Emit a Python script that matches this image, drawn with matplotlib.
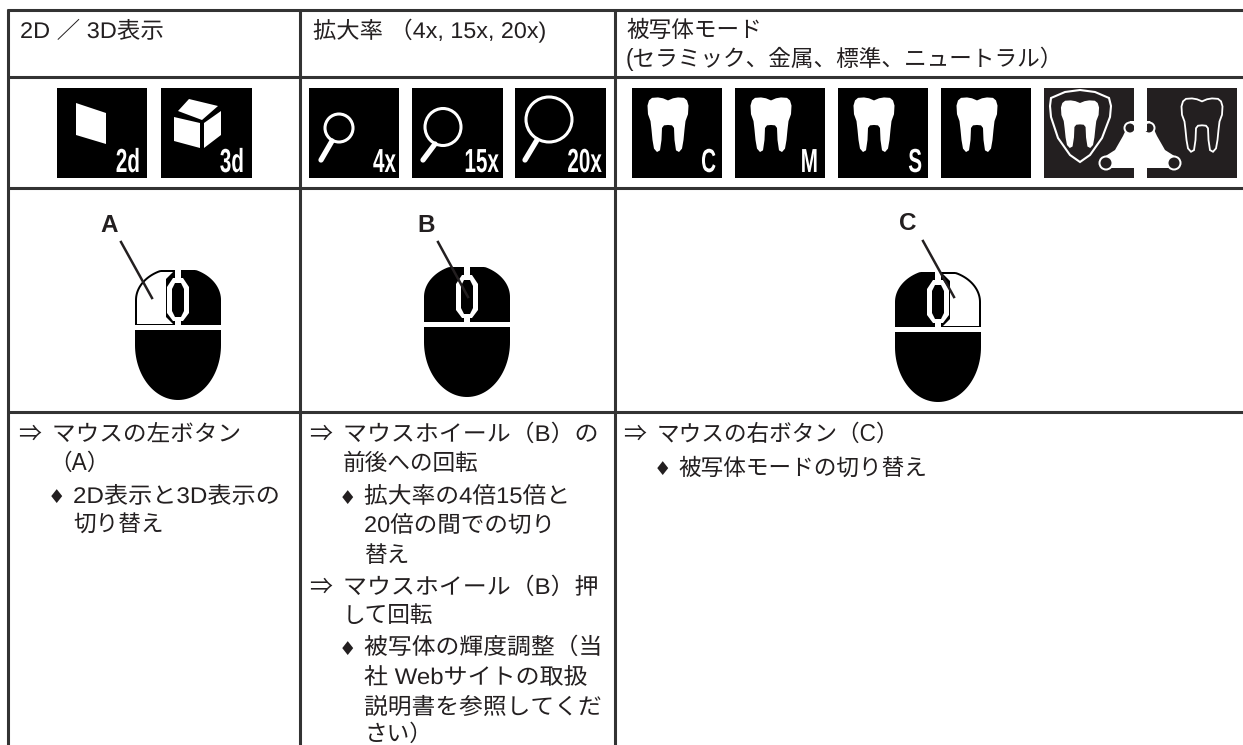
import numpy as np
import matplotlib
matplotlib.use("Agg")
import matplotlib.pyplot as plt
from matplotlib.patches import Polygon, Rectangle, Circle, Ellipse
from matplotlib.patheffects import AbstractPathEffect
from matplotlib.transforms import Affine2D

plt.rcParams['font.family'] = ['Liberation Sans', 'Noto Sans CJK JP', 'DejaVu Sans']

# ====== table text ======
headers = ["2D ／ 3D表示", "拡大率 （4x, 15x, 20x)", "被写体モード",
           "(セラミック、金属、標準、ニュートラル）"]
col1_lines = ["マウスの左ボタン", "（A）", "2D表示と3D表示の", "切り替え"]
col2_lines = ["マウスホイール（B）の", "前後への回転", "拡大率の4倍15倍と", "20倍の間での切り", "替え",
              "マウスホイール（B）押", "して回転", "被写体の輝度調整（当", "社 Webサイトの取扱",
              "説明書を参照してくだ", "さい）"]
col3_lines = ["マウスの右ボタン（C）", "被写体モードの切り替え"]
view_labels = ["2d", "3d"]
zoom_labels = ["4x", "15x", "20x"]
mode_labels = ["C", "M", "S"]
mouse_labels = ["A", "B", "C"]

INK = '#231f20'
TXT = 16.3

fig = plt.figure(figsize=(12.43, 7.45), dpi=100)
ax = fig.add_axes([0, 0, 1, 1])
ax.set_xlim(0, 1243)
ax.set_ylim(745, 0)
ax.axis('off')


class Stretch(AbstractPathEffect):
    # horizontal scale of a text around one x, the reference has justified and condensed lines
    def __init__(self, x, factor):
        super().__init__()
        self.x0 = ax.transData.transform((x, 0))[0]
        self.factor = factor

    def draw_path(self, renderer, gc, tpath, affine, rgbFace=None):
        squeeze = Affine2D().translate(-self.x0, 0).scale(self.factor, 1).translate(self.x0, 0)
        renderer.draw_path(gc, tpath, affine + squeeze, rgbFace)


# ====== grid ======
for y in [10, 77, 188, 412]:
    ax.plot([7, 1243], [y, y], color='#333333', lw=2.2, solid_capstyle='butt')
for x in [8, 300, 615]:
    ax.plot([x, x], [9, 745], color='#333333', lw=2.2, solid_capstyle='butt')


def put(x, y, s, factor=1.0, **kw):
    t = ax.text(x, y, s, fontsize=kw.pop('fontsize', TXT), color=kw.pop('color', INK), va='baseline', **kw)
    if factor != 1.0:
        t.set_path_effects([Stretch(x, factor)])


# ====== header row ======
put(20, 38, headers[0], 1.04)
put(313, 38, headers[1], 1.03)
put(626, 37, headers[2])
put(626, 66, headers[3])


# ====== icons ======
def box(x0, x1=None, color='black'):
    x1 = x0 + 90 if x1 is None else x1
    ax.add_patch(Rectangle((x0, 88), x1 - x0, 90, fc=color, ec='none'))


def icon_label(right, s):
    t = ax.text(right, 172, s, color='white', fontsize=24, fontweight='bold', ha='right', va='baseline')
    t.set_path_effects([Stretch(right, 0.62)])


def poly(pts, **kw):
    ax.add_patch(Polygon(pts, closed=True, **kw))


box(57)
box(161, 252)
icon_label(140, view_labels[0])
icon_label(244, view_labels[1])
poly([(76, 103), (106, 113), (106, 144), (76, 135)], fc='white', ec='none')
poly([(178, 111), (189, 99), (218, 106), (202, 120)], fc='white', ec='none')
poly([(174, 117), (200, 123), (200, 148), (174, 141)], fc='white', ec='none')
poly([(204, 123), (221, 111), (221, 135), (204, 148)], fc='white', ec='none')

# lupen
for x0, x1, right, lab, cx, cy, rx, ry, hx, hy, ex, ey in [
        (309, 399, 396, zoom_labels[0], 339, 128, 14, 14, 332, 141, 321, 160),
        (412, 503, 499, zoom_labels[1], 443, 127, 18, 18.5, 435, 144, 423, 160),
        (515, 606, 602, zoom_labels[2], 549, 119.5, 23, 22.5, 537, 140, 525, 160)]:
    box(x0, x1)
    ax.add_patch(Ellipse((cx, cy), 2 * rx, 2 * ry, fc='none', ec='white', lw=2.2))
    ax.plot([hx, ex], [hy, ey], color='white', lw=3.8, solid_capstyle='round')
    icon_label(right, lab)

# teeth
half = [(0, 4), (5, 1.5), (10, 0.5), (16, 1), (19, 4), (20.5, 10), (20, 20), (17.5, 28), (16.5, 38),
        (15.5, 50), (14, 60), (11, 64), (8, 62), (6.5, 50), (6, 36), (4, 33), (0, 32.5)]


def tooth(cx, top, sx=1.0, sy=1.0, **kw):
    right = [(cx + dx * sx, top + dy * sy) for dx, dy in half]
    left = [(cx - dx * sx, top + dy * sy) for dx, dy in half[::-1]]
    poly(right + left[1:-1], **kw)


for i, x0 in enumerate([632, 735, 838, 941]):
    box(x0)
    tooth(x0 + 36, 97, 1.0, 0.86, fc='white', ec='none')
for right, lab in zip([716, 818, 922], mode_labels):
    icon_label(right, lab)

DARK = '#231f20'
box(1044, 1134, DARK)
box(1147, 1237, DARK)
tooth(1080, 100, 0.93, 0.75, fc='white', ec='none')
tooth(1202, 98, 1.0, 0.84, fc='none', ec='white', lw=1.3)
shield = [(1080, 90), (1095, 92), (1109, 98), (1111, 106), (1110, 117), (1102, 138), (1090, 155), (1080, 162),
          (1070, 155), (1058, 138), (1051, 117), (1050, 106), (1051, 98), (1065, 92)]
poly(shield, fc='none', ec='white', lw=1.5)
poly([(1130, 121), (1150, 121), (1157, 136), (1165, 150), (1176, 157), (1178, 168), (1102, 168),
      (1104, 157), (1115, 150), (1123, 136)], fc='white', ec='none')
ax.add_patch(Rectangle((1134, 160), 13, 18, fc='white', ec='none'))
for cx, cy, r in [(1130, 128, 5), (1149, 128, 5), (1106, 163, 6), (1174, 163, 6)]:
    ax.add_patch(Circle((cx, cy), r + 1.5, fc='white', ec='none'))
    ax.add_patch(Circle((cx, cy), r - 0.5, fc=DARK, ec='none'))
ax.add_patch(Rectangle((1134, 88), 13, 43, fc='white', ec='none'))


# ====== mice ======
def mouse(cx, top, button=None):
    t = np.linspace(np.pi, 2 * np.pi, 60)
    xs = cx + 43 * np.cos(t)
    ys = np.maximum(top + 30 + 33 * np.sin(t), top)
    b = np.linspace(0, np.pi, 60)
    xs2 = cx + 43 * np.cos(b)
    ys2 = top + 75 + 55 * np.sin(b)
    poly(np.column_stack([np.r_[xs, xs2], np.r_[ys, ys2]]), fc='black', ec='none')

    if button is not None:
        # white button with a thin black edge left over
        inner = np.linspace(np.pi, 1.5 * np.pi, 30)
        ax_x = cx + button * (-np.cos(inner)) * 41
        ay = np.maximum(top + 30 + 31 * np.sin(inner), top + 2)
        keep = button * (ax_x - cx) > 6
        pts = [(cx + button * 41, top + 54)] + list(zip(ax_x[keep], ay[keep]))
        pts += [(cx + button * 5, top + 2), (cx + button * 12, top + 9), (cx + button * 12, top + 47),
                (cx + button * 5, top + 54)]
        poly(pts, fc='white', ec='none')

    # gap lines and the wheel
    ax.add_patch(Rectangle((cx - 3, top), 6, 55, fc='white', ec='none'))
    ax.add_patch(Rectangle((cx - 44, top + 55), 88, 5, fc='white', ec='none'))
    poly([(cx - 5, top + 8), (cx + 5, top + 8), (cx + 11, top + 17), (cx + 11, top + 43), (cx + 5, top + 51),
          (cx - 5, top + 51), (cx - 11, top + 43), (cx - 11, top + 17)], fc='white', ec='none')
    poly([(cx - 3, top + 13), (cx + 3, top + 13), (cx + 6, top + 19), (cx + 6, top + 41), (cx + 3, top + 47),
          (cx - 3, top + 47), (cx - 6, top + 41), (cx - 6, top + 19)], fc='black', ec='none')


mouse(178, 270, -1)
mouse(467, 267)
mouse(938, 272, 1)

for lab, lx, ly, x1, y1, x2, y2 in [(mouse_labels[0], 109, 232, 121, 242, 152, 298),
                                    (mouse_labels[1], 426, 232, 438, 242, 468, 297),
                                    (mouse_labels[2], 908, 230, 923, 241, 954, 297)]:
    ax.text(lx, ly, lab, fontsize=17.5, fontweight='bold', color=INK, ha='center', va='baseline')
    ax.plot([x1, x2], [y1, y2], color=INK, lw=1.8)


# ====== lower cells ======
def arrow(x, y):
    put(x, y, "⇒", family=['Noto Sans CJK JP'], fontsize=16.5)


def bullet(x, y):
    put(x, y + 1, "♦", fontsize=14, family=['DejaVu Sans'])


arrow(18, 441)
put(52, 441, col1_lines[0], 1.044)
put(49, 470, col1_lines[1])
bullet(48, 502)
put(73, 503, col1_lines[2], 1.068)
put(73, 532, col1_lines[3])

arrow(309, 441)
ys2 = [441, 470, 503, 532, 562, 594, 622, 654, 684, 714, 741]
xs2 = [343, 343, 364, 364, 364, 343, 343, 364, 364, 364, 364]
fs2 = [1.058, 1.0, 1.05, 1.04, 1.0, 1.058, 1.0, 1.053, 1.06, 1.05, 1.0]
for x, y, s, f in zip(xs2, ys2, col2_lines, fs2):
    put(x, y, s, f)
arrow(309, 594)
bullet(339, 503)
bullet(339, 654)

arrow(623, 441)
put(657, 441, col3_lines[0])
bullet(654, 474)
put(678, 475, col3_lines[1])

plt.savefig("out.png", dpi=100)
